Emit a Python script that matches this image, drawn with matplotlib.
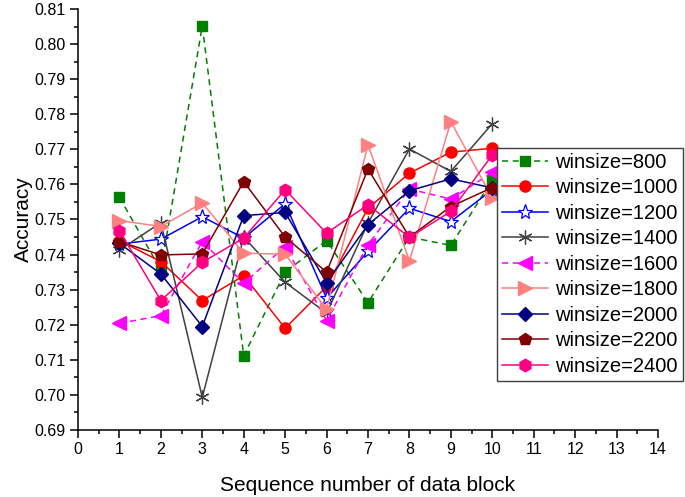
import matplotlib.pyplot as plt
from matplotlib.ticker import MultipleLocator

plt.rcParams['font.family'] = ['Liberation Sans', 'DejaVu Sans']

# Номери блоків даних
blocks = [1, 2, 3, 4, 5, 6, 7, 8, 9, 10]

# Точність для кожного розміру вікна
w800 = [0.7563, 0.7356, 0.8052, 0.7112, 0.7350, 0.7440, 0.7263, 0.7450, 0.7426, 0.7613]
w1000 = [0.7440, 0.7380, 0.7269, 0.7340, 0.7190, 0.7309, 0.7532, 0.7632, 0.7692, 0.7703]
w1200 = [0.7430, 0.7444, 0.7508, 0.7447, 0.7545, 0.7276, 0.7409, 0.7532, 0.7494, 0.7585]
w1400 = [0.7413, 0.7491, 0.6993, 0.7450, 0.7321, 0.7233, 0.7490, 0.7701, 0.7637, 0.7773]
w1600 = [0.7204, 0.7226, 0.7437, 0.7318, 0.7423, 0.7212, 0.7428, 0.7587, 0.7558, 0.7634]
w1800 = [0.7497, 0.7480, 0.7547, 0.7404, 0.7401, 0.7244, 0.7713, 0.7382, 0.7779, 0.7561]
w2000 = [0.7432, 0.7345, 0.7195, 0.7511, 0.7520, 0.7320, 0.7485, 0.7582, 0.7616, 0.7590]
w2200 = [0.7437, 0.7399, 0.7402, 0.7608, 0.7450, 0.7350, 0.7644, 0.7450, 0.7537, 0.7591]
w2400 = [0.7468, 0.7269, 0.7378, 0.7447, 0.7585, 0.7461, 0.7542, 0.7449, 0.7523, 0.7684]

labels = ['winsize=800', 'winsize=1000', 'winsize=1200', 'winsize=1400', 'winsize=1600',
          'winsize=1800', 'winsize=2000', 'winsize=2200', 'winsize=2400']

fig = plt.figure(figsize=(6.85, 4.97), dpi=100)
ax = fig.add_axes([78 / 685, 67 / 497, 580 / 685, 421 / 497])

# Стилі ліній як в Origin
ax.plot(blocks, w800, color='#008000', ls=(0, (4, 3)), lw=1.1, marker='s', ms=7, label=labels[0])
ax.plot(blocks, w1000, color='#FF0000', lw=1.1, marker='o', ms=8, label=labels[1])
ax.plot(blocks, w1200, color='#0000FF', lw=1.1, marker='*', ms=11, mfc='white', mec='#0000FF',
        mew=0.9, label=labels[2])
ax.plot(blocks, w1400, color='#404040', lw=1.1, marker=(6, 2, 0), ms=10, mew=0.9, label=labels[3])
ax.plot(blocks, w1600, color='#FF00FF', ls=(0, (4, 3)), lw=1.1, marker='<', ms=10, label=labels[4])
ax.plot(blocks, w1800, color='#FF8080', lw=1.1, marker='>', ms=10, label=labels[5])
ax.plot(blocks, w2000, color='#000080', lw=1.1, marker='D', ms=7, label=labels[6])
ax.plot(blocks, w2200, color='#800000', lw=1.1, marker='p', ms=9, label=labels[7])
ax.plot(blocks, w2400, color='#FF0080', lw=1.1, marker='h', ms=9, label=labels[8])

ax.set_xlim(0, 14)
ax.set_ylim(0.69, 0.81)
ax.xaxis.set_major_locator(MultipleLocator(1))
ax.xaxis.set_minor_locator(MultipleLocator(0.5))
ax.yaxis.set_major_locator(MultipleLocator(0.01))
ax.yaxis.set_minor_locator(MultipleLocator(0.005))
ax.yaxis.set_major_formatter(plt.FormatStrFormatter('%.2f'))

ax.spines['top'].set_visible(False)
ax.spines['right'].set_visible(False)
ax.spines['left'].set_linewidth(1.1)
ax.spines['bottom'].set_linewidth(1.1)
ax.tick_params(which='major', direction='out', length=5.5, width=1.1, labelsize=11.5)
ax.tick_params(which='minor', direction='out', length=3, width=1.1)

ax.set_xlabel('Sequence number of data block', fontsize=15, labelpad=13)
ax.set_ylabel('Accuracy', fontsize=15, labelpad=1)

leg = ax.legend(loc='upper left', bbox_to_anchor=(0.7224, 0.6698), borderaxespad=0,
                fontsize=14.5, numpoints=1, handlelength=2.3, handletextpad=0.35,
                labelspacing=0.32, borderpad=0.25, fancybox=False, framealpha=1)
leg.get_frame().set_edgecolor('#404040')
leg.get_frame().set_linewidth(1.0)

plt.savefig('out.png', dpi=100)
